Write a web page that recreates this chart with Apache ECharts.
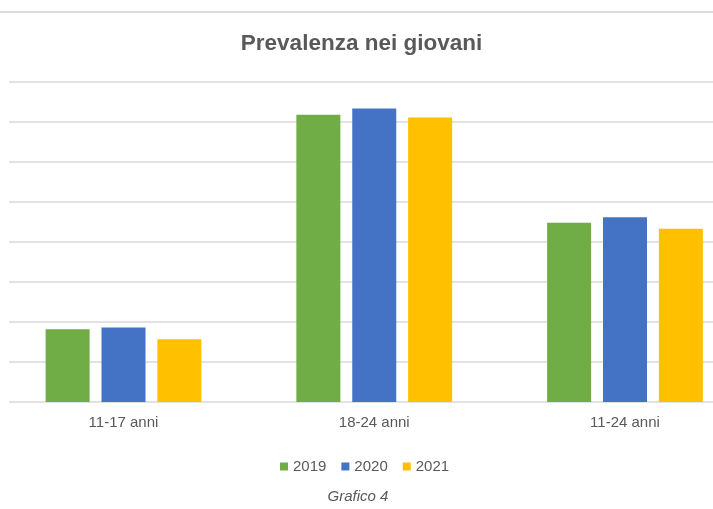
<!DOCTYPE html>
<html>
<head>
<meta charset="utf-8">
<script src="https://cdn.jsdelivr.net/npm/echarts@6/dist/echarts.min.js"></script>
<style>
html,body{margin:0;padding:0;background:#fff;}
#chart{width:713px;height:509px;}
</style>
</head>
<body>
<div id="chart"></div>
<script>
const categories = ['11-17 anni', '18-24 anni', '11-24 anni'];
const years = ['2019', '2020', '2021'];
const values2019 = [1.82, 7.18, 4.48];
const values2020 = [1.86, 7.34, 4.62];
const values2021 = [1.57, 7.11, 4.33];
const colors = ['#70AD47', '#4472C4', '#FFC000'];
const textColor = '#595959';

const chart = echarts.init(document.getElementById('chart'), null, {renderer: 'canvas'});
const seriesData = [values2019, values2020, values2021];

chart.setOption({
  animation: false,
  backgroundColor: '#ffffff',
  legend: {
    data: years,
    left: 275,
    top: 454,
    icon: 'rect',
    itemWidth: 8,
    itemHeight: 8,
    itemGap: 15,
    textStyle: {color: textColor, fontSize: 15, fontFamily: 'Liberation Sans'}
  },
  grid: [
    {left: 123.5, right: 88, top: 82, bottom: 107},
    {left: 9, right: 0, top: 82, bottom: 107}
  ],
  xAxis: [
    {
      type: 'category',
      gridIndex: 0,
      data: categories,
      boundaryGap: false,
      axisLine: {show: false},
      axisTick: {show: false},
      axisLabel: {color: textColor, fontSize: 15, margin: 13, fontFamily: 'Liberation Sans'}
    },
    {type: 'value', gridIndex: 1, min: 0, max: 1, show: false}
  ],
  yAxis: [
    {type: 'value', gridIndex: 0, min: 0, max: 8, interval: 1, show: false, splitLine: {show: false}},
    {
      type: 'value', gridIndex: 1, min: 0, max: 8, interval: 1,
      axisLabel: {show: false}, axisLine: {show: false}, axisTick: {show: false},
      splitLine: {show: true, lineStyle: {color: '#d9d9d9', width: 1.5}}
    }
  ],
  graphic: [
    {type: 'line', shape: {x1: 0, y1: 12, x2: 713, y2: 12}, style: {stroke: '#dcdcdc', lineWidth: 2}},
    {type: 'text', x: 361.5, y: 44, style: {text: 'Prevalenza nei giovani', fill: textColor, font: 'bold 22.5px "Liberation Sans"', textAlign: 'center', textVerticalAlign: 'middle'}},
    {type: 'text', x: 358, y: 497, style: {text: 'Grafico 4', fill: textColor, font: 'italic 15px "Liberation Sans"', textAlign: 'center', textVerticalAlign: 'middle'}}
  ],
  series: years.map((y, i) => ({
    name: y,
    type: 'bar',
    xAxisIndex: 0,
    yAxisIndex: 0,
    data: seriesData[i],
    barWidth: 44,
    barGap: '27%',
    clip: false,
    itemStyle: {color: colors[i]},
    z: 3
  }))
});
</script>
</body>
</html>
